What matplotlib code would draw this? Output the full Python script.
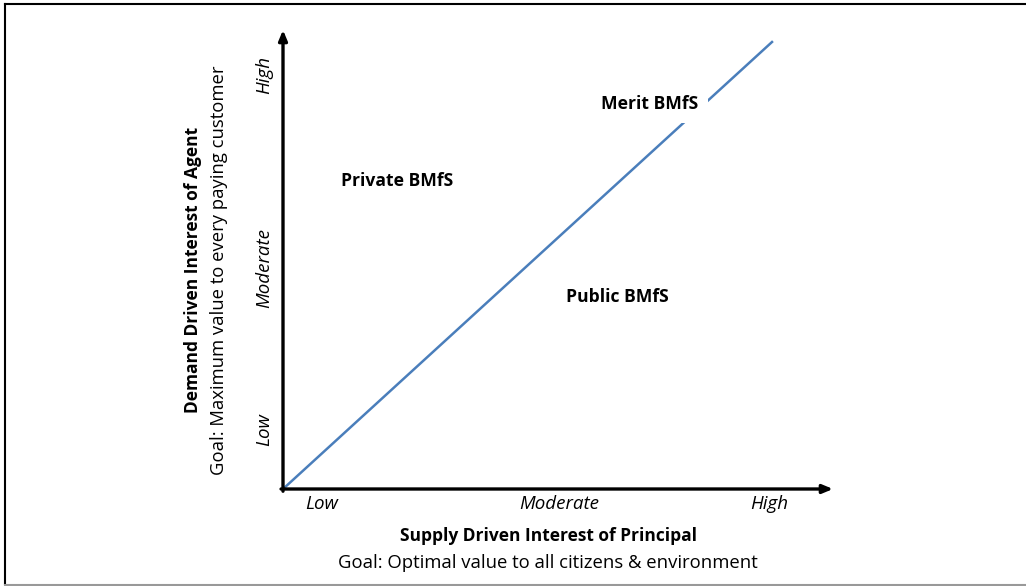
import matplotlib
matplotlib.use("Agg")
import matplotlib.pyplot as plt
from matplotlib.lines import Line2D

plt.rcParams['font.family'] = ['Open Sans', 'DejaVu Sans']

# axis level labels and their positions along each axis (0 = origin, 1 = end of the diagonal)
x_levels = ["Low", "Moderate", "High"]
x_level_pos = [0.08, 0.564, 0.994]
y_levels = ["Low", "Moderate", "High"]
y_level_pos = [0.132, 0.494, 0.926]

# the diagonal separating public and private
diag_x = [0.0, 1.0]
diag_y = [0.0, 1.0]

# region labels
regions = ["Private BMfS", "Merit BMfS", "Public BMfS"]
region_x = [0.233, 0.75, 0.683]
region_y = [0.689, 0.861, 0.43]

x_title = "Supply Driven Interest of Principal"
x_goal = "Goal: Optimal value to all citizens & environment"
y_title = "Demand Driven Interest of Agent"
y_goal = "Goal: Maximum value to every paying customer"

W, H = 1026, 586
fig = plt.figure(figsize=(W / 100, H / 100), dpi=100)

# frame around the picture
fig.add_artist(Line2D([5 / W, 5 / W], [2 / H, 1 - 3.5 / H], color="black", lw=1.5))
fig.add_artist(Line2D([5 / W, 1], [1 - 3.5 / H, 1 - 3.5 / H], color="black", lw=1.5))
fig.add_artist(Line2D([5 / W, 1], [1.5 / H, 1.5 / H], color="#999999", lw=1.5))

ox, oy = 283, 489
ex, ey = 772, 42
ax = fig.add_axes([ox / W, (H - oy) / H, (ex - ox) / W, (oy - ey) / H])
ax.set_xlim(0, 1)
ax.set_ylim(0, 1)
ax.axis("off")

# arrows for the axes
x_end = (833 - ox) / (ex - ox)
y_end = (oy - 30) / (oy - ey)
arrow = dict(arrowstyle="-|>,head_length=0.6,head_width=0.25", color="black", lw=2.4,
             shrinkA=0, shrinkB=0)
ax.annotate("", xy=(x_end, 0), xytext=(-0.004, 0), arrowprops=arrow, annotation_clip=False)
ax.annotate("", xy=(0, y_end), xytext=(0, -0.005), arrowprops=arrow, annotation_clip=False)

ax.plot(diag_x, diag_y, color="#4a7ebb", lw=1.8, clip_on=False, zorder=1)

for lab, x in zip(x_levels, x_level_pos):
    ax.text(x, -0.033, lab, ha="center", va="center", style="italic", fontsize=13.5)
for lab, y in zip(y_levels, y_level_pos):
    ax.text(-0.038, y, lab, ha="center", va="center", style="italic", fontsize=13.5,
            rotation=90)

for lab, x, y in zip(regions, region_x, region_y):
    ax.text(x, y, lab, ha="center", va="center", fontweight="bold", fontsize=12.6,
            zorder=3, bbox=dict(facecolor="white", edgecolor="none", pad=7))

ax.text((548 - ox) / (ex - ox), -(536 - oy) / (oy - ey), x_title, ha="center", va="center",
        fontweight="bold", fontsize=12.5)
ax.text((548 - ox) / (ex - ox), -(563 - oy) / (oy - ey), x_goal, ha="center", va="center",
        fontsize=13.3)
ax.text(-(ox - 193) / (ex - ox), (oy - 270) / (oy - ey), y_title, ha="center", va="center",
        fontweight="bold", fontsize=12.5, rotation=90)
ax.text(-(ox - 219) / (ex - ox), (oy - 270) / (oy - ey), y_goal, ha="center", va="center",
        fontsize=13.3, rotation=90)

fig.savefig("out.png", dpi=100)
